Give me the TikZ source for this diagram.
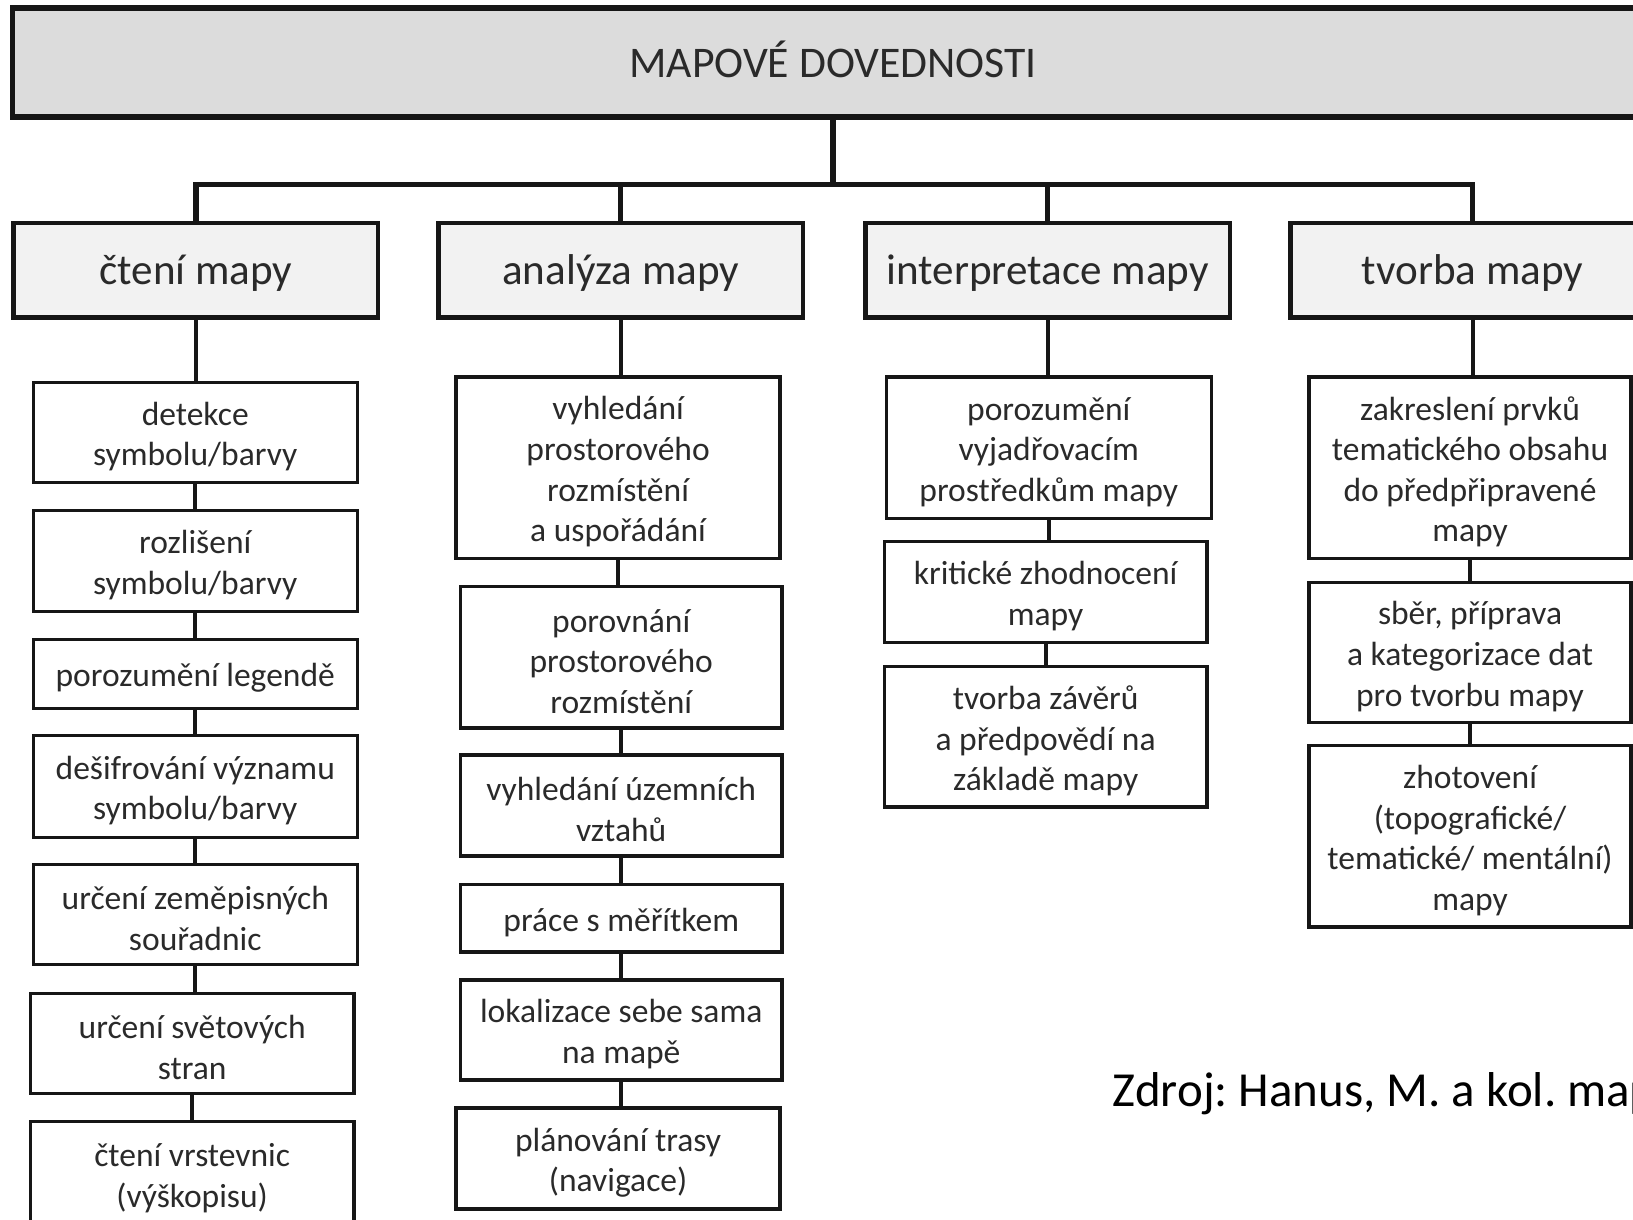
\documentclass[tikz,border=0pt]{standalone}
\usepackage{fontspec}
\setmainfont{Carlito}
\frenchspacing
\definecolor{barfill}{HTML}{DCDCDC}
\definecolor{catfill}{HTML}{F2F2F2}
\definecolor{ink}{HTML}{161616}
\definecolor{txt}{HTML}{2A2A2A}

% \bx[text offset]{style}{name}{x1}{y1}{x2}{y2}{text}: box spanning the two
% corners, its text set slightly lower than the geometric centre
\newcommand\bx[8][4]{%
  \pgfmathsetmacro\bxcx{(#4+#6)/2}%
  \pgfmathsetmacro\bxcy{(#5+#7)/2}%
  \pgfmathsetmacro\bxty{(#5+#7)/2+#1}%
  \pgfmathsetmacro\bxwd{(#6-#4)*0.5}%
  \pgfmathsetmacro\bxht{(#7-#5)*0.5}%
  \node[#2, minimum width=\bxwd pt, minimum height=\bxht pt] (#3) at (\bxcx,\bxcy) {};
  \node[#2 text] (#3-t) at (\bxcx,\bxty) {#8};}

\begin{document}
\begin{tikzpicture}[x=0.5pt,y=-0.5pt,
  rootbox/.style={draw=ink, line width=2.8pt, fill=barfill, inner sep=0pt},
  rootbox text/.style={inner sep=0pt, font=\fontsize{21}{25}\selectfont, text=txt},
  catbox/.style={draw=ink, line width=2.2pt, fill=catfill, inner sep=0pt},
  catbox text/.style={inner sep=0pt, font=\fontsize{20.7}{25}\selectfont, text=txt},
  childbox/.style={draw=ink, line width=1.6pt, fill=white, inner sep=0pt},
  childbox text/.style={inner sep=0pt, align=center,
    font=\fontsize{16.1}{19.5}\selectfont, text=txt},
  trunk/.style={draw=ink, line width=2.6pt},
  link/.style={draw=ink, line width=2pt},
]
\useasboundingbox (0,0) rectangle (1568,1171);
\clip (0,0) rectangle (1568,1171);

% top level
\bx[-3]{rootbox}{root}{12}{8}{1588}{112}{MAPOVÉ DOVEDNOSTI}

% four branches
\bx[3]{catbox}{cat1}{13}{214}{363}{305}{čtení mapy}
\bx[3]{catbox}{cat2}{421}{214}{771}{305}{analýza mapy}
\bx[3]{catbox}{cat3}{831}{214}{1181}{305}{interpretace mapy}
\bx[3]{catbox}{cat4}{1239}{214}{1589}{305}{tvorba mapy}

\coordinate (bus) at (800,177);
\draw[trunk] (root.south) -- (bus);
\draw[trunk] (cat1.north) |- (bus) -| (cat4.north);
\draw[trunk] (cat2.north) -- (cat2.north |- bus);
\draw[trunk] (cat3.north) -- (cat3.north |- bus);

% čtení mapy
\bx{childbox}{c11}{32}{367}{343}{463}{detekce\\symbolu/barvy}
\bx{childbox}{c12}{32}{490}{343}{587}{rozlišení\\symbolu/barvy}
\bx{childbox}{c13}{32}{614}{343}{680}{porozumění legendě}
\bx{childbox}{c14}{32}{706}{343}{804}{dešifrování významu\\symbolu/barvy}
\bx{childbox}{c15}{32}{830}{343}{926}{určení zeměpisných\\souřadnic}
\bx{childbox}{c16}{29}{954}{340}{1050}{určení světových\\stran}
\bx{childbox}{c17}{29}{1077}{340}{1178}{čtení vrstevnic\\(výškopisu)}

% analýza mapy
\bx{childbox}{c21}{438}{362}{749}{536}{vyhledání\\prostorového\\rozmístění\\a uspořádání}
\bx{childbox}{c22}{442}{563}{751}{699}{porovnání\\prostorového\\rozmístění}
\bx{childbox}{c23}{442}{725}{751}{822}{vyhledání územních\\vztahů}
\bx{childbox}{c24}{442}{849}{751}{914}{práce s měřítkem}
\bx{childbox}{c25}{442}{941}{751}{1037}{lokalizace sebe sama\\na mapě}
\bx{childbox}{c26}{438}{1064}{749}{1161}{plánování trasy\\(navigace)}

% interpretace mapy
\bx{childbox}{c31}{851}{362}{1163}{498}{porozumění\\vyjadřovacím\\prostředkům mapy}
\bx{childbox}{c32}{849}{520}{1159}{617}{kritické zhodnocení\\mapy}
\bx{childbox}{c33}{849}{640}{1159}{775}{tvorba závěrů\\a předpovědí na\\základě mapy}

% tvorba mapy
\bx{childbox}{c41}{1257}{362}{1566}{536}{zakreslení prvků\\tematického obsahu\\do předpřipravené\\mapy}
\bx{childbox}{c42}{1257}{559}{1566}{694}{sběr, příprava\\a kategorizace dat\\pro tvorbu mapy}
\bx{childbox}{c43}{1257}{716}{1566}{890}{zhotovení\\(topografické/\\tematické/ mentální)\\mapy}

% vertical links inside each column
\foreach \a/\b in {cat1/c11,c11/c12,c12/c13,c13/c14,c14/c15,c15/c16,c16/c17,
                   cat2/c21,c21/c22,c22/c23,c23/c24,c24/c25,c25/c26,
                   cat3/c31,c31/c32,c32/c33,
                   cat4/c41,c41/c42,c42/c43}
  \draw[link] (\a.south) -- (\a.south |- \b.north);

% source note
\node[anchor=base west, inner sep=0pt, font=\fontsize{23.5}{28}\selectfont]
  (src) at (1068,1062) {Zdroj: Hanus, M. a kol. map};
\end{tikzpicture}
\end{document}
